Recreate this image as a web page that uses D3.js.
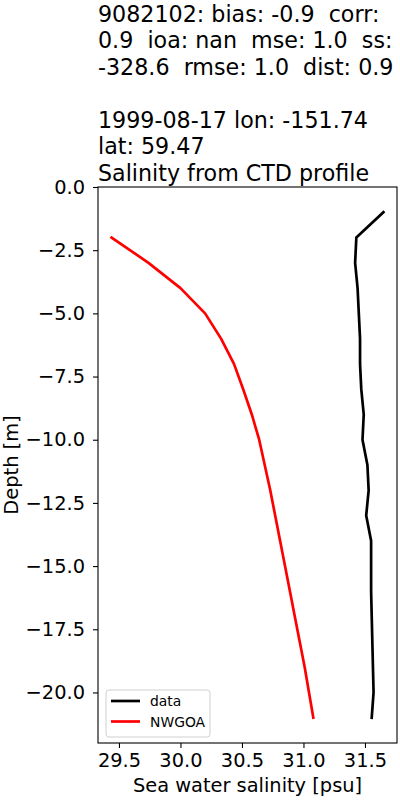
<!DOCTYPE html>
<html>
<head>
<meta charset="utf-8">
<script src="https://cdn.jsdelivr.net/npm/d3@7"></script>
<style>
  body { margin: 0; background: #fff; }
  svg { display: block; font-family: "DejaVu Sans", sans-serif; }
  .title text { white-space: pre; }
</style>
</head>
<body>
<svg id="chart"></svg>
<script>
// observed CTD profile
const dataDepth = [-1, -2, -3, -4, -5, -6, -7, -8, -9, -10, -11, -12, -13, -14, -15, -16, -17, -18, -19, -20, -21];
const dataSal = [31.65, 31.43, 31.42, 31.44, 31.45, 31.46, 31.46, 31.47, 31.49, 31.48, 31.52, 31.53, 31.51, 31.55, 31.55, 31.55, 31.555, 31.56, 31.565, 31.57, 31.555];
// model profile
const modelDepth = [-2, -3, -4, -5, -6, -7, -8, -9, -10, -11, -12, -13, -14, -15, -16, -17, -18, -19, -20, -21];
const modelSal = [29.44, 29.74, 30.0, 30.2, 30.33, 30.435, 30.51, 30.58, 30.64, 30.685, 30.73, 30.77, 30.81, 30.85, 30.89, 30.93, 30.97, 31.01, 31.045, 31.08];

const xTicks = [29.5, 30.0, 30.5, 31.0, 31.5];
const yTicks = [0, -2.5, -5, -7.5, -10, -12.5, -15, -17.5, -20];

const titleLines = [
  "9082102: bias: -0.9  corr:",
  "0.9  ioa: nan  mse: 1.0  ss:",
  "-328.6  rmse: 1.0  dist: 0.9",
  "",
  "1999-08-17 lon: -151.74",
  "lat: 59.47",
  "Salinity from CTD profile"
];

const series = [
  { name: "data", color: "#000", x: dataSal, y: dataDepth },
  { name: "NWGOA", color: "#ff0000", x: modelSal, y: modelDepth }
];

const width = 400, height = 800;
const margin = { top: 187, right: 3, bottom: 57, left: 98 };

const svg = d3.select("#chart").attr("width", width).attr("height", height);

// matplotlib style 5% padding
const pad = (ext) => {
  const r = ext[1] - ext[0];
  return [ext[0] - r * 0.05, ext[1] + r * 0.05];
};
const allX = dataSal.concat(modelSal);
const allY = dataDepth.concat(modelDepth);

const x = d3.scaleLinear().domain(pad(d3.extent(allX))).range([margin.left, width - margin.right]);
const y = d3.scaleLinear().domain(pad(d3.extent(allY))).range([height - margin.bottom, margin.top]);

const minus = (s) => s.replace("-", "\u2212");

// title
svg.append("g")
  .attr("class", "title")
  .selectAll("text")
  .data(titleLines)
  .join("text")
  .attr("x", margin.left)
  .attr("y", (d, i) => 21.5 + i * 26.5)
  .attr("font-size", 22.2)
  .attr("fill", "#000")
  .text((d) => d);

// lines
const line = d3.line().x((d) => x(d[0])).y((d) => y(d[1]));
svg.append("g")
  .selectAll("path")
  .data(series)
  .join("path")
  .attr("d", (s) => line(s.x.map((v, i) => [v, s.y[i]])))
  .attr("fill", "none")
  .attr("stroke", (s) => s.color)
  .attr("stroke-width", 2.7)
  .attr("stroke-linejoin", "round")
  .attr("stroke-linecap", "square");

// axes
const xAxis = svg.append("g")
  .attr("transform", `translate(0,${height - margin.bottom})`)
  .call(d3.axisBottom(x).tickValues(xTicks).tickFormat(d3.format(".1f")).tickSize(5).tickPadding(5));
const yAxis = svg.append("g")
  .attr("transform", `translate(${margin.left},0)`)
  .call(d3.axisLeft(y).tickValues(yTicks).tickFormat((d) => minus(d3.format(".1f")(d))).tickSize(5).tickPadding(8));

[xAxis, yAxis].forEach((a) => {
  a.select(".domain").remove();
  a.selectAll("line").attr("stroke", "#000").attr("stroke-width", 1.1);
  a.selectAll("text").attr("font-size", 19.4).attr("fill", "#000").attr("font-family", "DejaVu Sans");
});

// frame
svg.append("rect")
  .attr("x", margin.left)
  .attr("y", margin.top)
  .attr("width", width - margin.right - margin.left)
  .attr("height", height - margin.bottom - margin.top)
  .attr("fill", "none")
  .attr("stroke", "#000")
  .attr("stroke-width", 1.1);

// axis labels
svg.append("text")
  .attr("x", (margin.left + width - margin.right) / 2)
  .attr("y", 792)
  .attr("text-anchor", "middle")
  .attr("font-size", 19.4)
  .text("Sea water salinity [psu]");
svg.append("text")
  .attr("transform", `translate(18,${(margin.top + height - margin.bottom) / 2}) rotate(-90)`)
  .attr("text-anchor", "middle")
  .attr("font-size", 19.4)
  .text("Depth [m]");

// legend
const lg = svg.append("g").attr("transform", "translate(106,690)");
lg.append("rect")
  .attr("width", 104)
  .attr("height", 47)
  .attr("rx", 3)
  .attr("fill", "#fff")
  .attr("fill-opacity", 0.8)
  .attr("stroke", "#d0d0d0")
  .attr("stroke-width", 1);
const items = lg.selectAll(".item")
  .data(series)
  .join("g")
  .attr("class", "item")
  .attr("transform", (d, i) => `translate(0,${11 + i * 20.5})`);
items.append("line")
  .attr("x1", 5).attr("x2", 34)
  .attr("stroke", (d) => d.color)
  .attr("stroke-width", 2.7);
items.append("text")
  .attr("x", 44)
  .attr("y", 5)
  .attr("font-size", 13.9)
  .text((d) => d.name);
</script>
</body>
</html>
